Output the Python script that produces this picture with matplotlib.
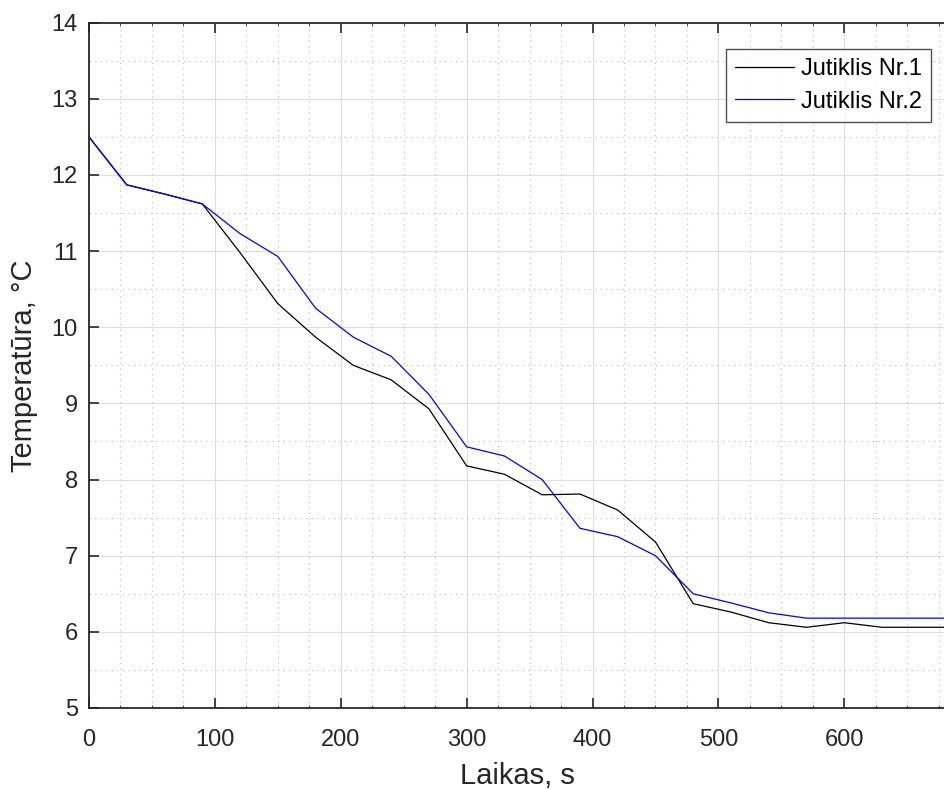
import matplotlib
matplotlib.use('Agg')
from matplotlib import pyplot as plt
from matplotlib.ticker import MultipleLocator
import numpy as np

plt.rcParams['font.family'] = ['Liberation Sans', 'DejaVu Sans']

# laikas, s
t = [0, 30, 60, 90, 120, 150, 180, 210, 240, 270, 300, 330,
     360, 390, 420, 450, 480, 510, 540, 570, 600, 630, 660, 690]
# jutiklis 1
temp1 = [12.5, 11.87, 11.75, 11.62, 10.98, 10.31, 9.87, 9.50, 9.31, 8.93, 8.18, 8.07,
         7.80, 7.81, 7.60, 7.18, 6.37, 6.26, 6.12, 6.06, 6.12, 6.06, 6.06, 6.06]
# jutiklis 2
temp2 = [12.5, 11.87, 11.75, 11.62, 11.23, 10.93, 10.25, 9.87, 9.62, 9.12, 8.43, 8.31,
         8.00, 7.36, 7.25, 7.00, 6.50, 6.38, 6.25, 6.18, 6.18, 6.18, 6.18, 6.18]
labels = ['Jutiklis Nr.1', 'Jutiklis Nr.2']

fig = plt.figure(figsize=(9.45, 7.9), dpi=100)
ax = fig.add_axes([89/945, 1-708/790, 1-89/945, (708-22.7)/790])

ax.plot(t, temp1, color='black', linewidth=0.9, label=labels[0])
ax.plot(t, temp2, color='#0000ff', linewidth=0.9, label=labels[1])

ax.set_xlim(0, 680)
ax.set_ylim(5, 14)
ax.xaxis.set_major_locator(MultipleLocator(100))
ax.xaxis.set_minor_locator(MultipleLocator(25))
ax.yaxis.set_major_locator(MultipleLocator(1))
ax.yaxis.set_minor_locator(MultipleLocator(0.5))

ax.grid(which='major', color='#dedede', linestyle='-', linewidth=0.8)
ax.grid(which='minor', color='#bdbdbd', linestyle=(0, (1, 4)), linewidth=0.8)
ax.set_axisbelow(True)

ax.tick_params(which='major', direction='in', length=7, width=1.2, color='#262626',
               labelsize=17, labelcolor='#262626', top=True, pad=8)
ax.tick_params(axis='x', which='major', pad=15)
ax.tick_params(which='minor', direction='in', length=2, width=0.6, color='#262626', top=True)
ax.tick_params(axis='y', which='minor', length=0)
for s in ['left', 'bottom', 'top']:
    ax.spines[s].set_color('#262626')
    ax.spines[s].set_linewidth(1.3)
ax.spines['right'].set_visible(False)

ax.set_xlabel('Laikas, s', fontsize=21, color='#262626', labelpad=8)
ax.set_ylabel('Temperatūra, °C', fontsize=21, color='#262626', labelpad=10)

leg = ax.legend(loc='upper right', fontsize=17, frameon=True, fancybox=False,
                handlelength=2.5, borderpad=0.38, borderaxespad=0,
                labelspacing=0.45, handletextpad=0.3)
leg.set_bbox_to_anchor((931/945, 1-49/790), transform=fig.transFigure)
leg.get_frame().set_edgecolor('#262626')
leg.get_frame().set_linewidth(1.0)

plt.savefig('out.png', dpi=100)
